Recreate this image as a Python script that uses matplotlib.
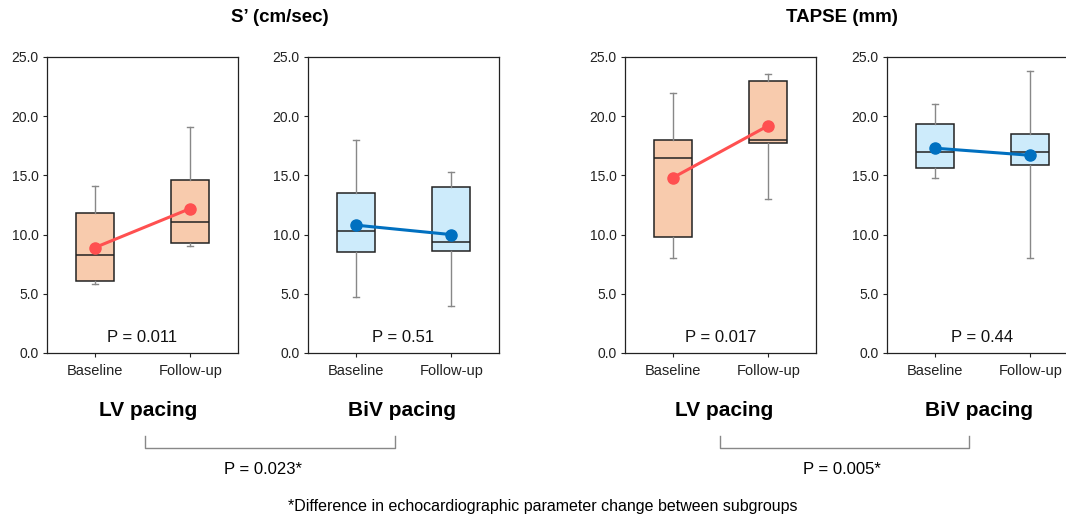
import numpy as np
import matplotlib
matplotlib.use('Agg')
import matplotlib.pyplot as plt
from matplotlib.lines import Line2D

plt.rcParams['font.family'] = ['Liberation Sans', 'DejaVu Sans']

groups = ['Baseline', 'Follow-up']

# box stats: whislo, q1, med, q3, whishi ; mean
s_lv_box = [[5.8, 6.1, 8.3, 11.8, 14.1], [9.0, 9.3, 11.1, 14.6, 19.1]]
s_lv_mean = [8.9, 12.2]
s_biv_box = [[4.7, 8.5, 10.3, 13.5, 18.0], [4.0, 8.6, 9.4, 14.0, 15.3]]
s_biv_mean = [10.8, 10.0]
t_lv_box = [[8.0, 9.8, 16.5, 18.0, 22.0], [13.0, 17.7, 18.0, 23.0, 23.6]]
t_lv_mean = [14.8, 19.2]
t_biv_box = [[14.8, 15.6, 17.0, 19.3, 21.0], [8.0, 15.9, 17.0, 18.5, 23.8]]
t_biv_mean = [17.3, 16.7]

p_within = ['P = 0.011', 'P = 0.51', 'P = 0.017', 'P = 0.44']
p_between = ['P = 0.023*', 'P = 0.005*']
titles = ["S\u2019 (cm/sec)", 'TAPSE (mm)']

W, H = 1066, 517
fig = plt.figure(figsize=(W / 100, H / 100), dpi=100)

panels = [
    (47, s_lv_box, s_lv_mean, '#F8CBAD', '#FF5050'),
    (308, s_biv_box, s_biv_mean, '#CDEBFB', '#0070C0'),
    (625, t_lv_box, t_lv_mean, '#F8CBAD', '#FF5050'),
    (887, t_biv_box, t_biv_mean, '#CDEBFB', '#0070C0'),
]

for k, (px, box, mean, fill, lc) in enumerate(panels):
    ax = fig.add_axes([px / W, (H - 353) / H, 191 / W, 296 / H])
    stats = []
    for b in box:
        stats.append(dict(whislo=b[0], q1=b[1], med=b[2], q3=b[3], whishi=b[4], fliers=[]))
    ax.bxp(stats, positions=[0, 1], widths=0.4, patch_artist=True, showfliers=False,
           boxprops=dict(facecolor=fill, edgecolor='#222222', linewidth=1.1),
           medianprops=dict(color='#222222', linewidth=1.1),
           whiskerprops=dict(color='#888888', linewidth=1.0),
           capprops=dict(color='#888888', linewidth=1.0), capwidths=0.06)
    ax.plot([0, 1], mean, color=lc, lw=2.2, marker='o', ms=8, zorder=5)
    ax.set_xlim(-0.5, 1.5)
    ax.set_ylim(0, 25)
    ax.set_yticks(np.arange(0, 25.1, 5))
    ax.set_yticklabels(['%.1f' % v for v in np.arange(0, 25.1, 5)])
    ax.set_xticks([0, 1])
    ax.set_xticklabels(groups)
    ax.tick_params(axis='y', labelsize=10, length=3, width=0.8, colors='#222222', pad=3)
    ax.tick_params(axis='x', labelsize=10.5, length=3, width=0.8, colors='#222222', pad=5)
    for sp in ax.spines.values():
        sp.set_color('#222222')
        sp.set_linewidth(0.9)
    ax.text(0.5, 16 / 296, p_within[k], transform=ax.transAxes,
            ha='center', va='center', fontsize=12, color='#111111')

# titles
fig.text(280 / W, 1 - 18 / H, titles[0], ha='center', va='center', fontsize=13.5, fontweight='bold')
fig.text(842 / W, 1 - 18 / H, titles[1], ha='center', va='center', fontsize=13.5, fontweight='bold')

# group labels
for x, s in [(148, 'LV pacing'), (402, 'BiV pacing'), (724, 'LV pacing'), (979, 'BiV pacing')]:
    fig.text(x / W, 1 - 411 / H, s, ha='center', va='center', fontsize=15, fontweight='bold')

# brackets
for (x0, x1), ptxt, xc in [((145, 395), p_between[0], 263), ((720, 969), p_between[1], 842)]:
    xs = np.array([x0, x0, x1, x1]) / W
    ys = 1 - np.array([436, 448, 448, 436]) / H
    fig.add_artist(Line2D(xs, ys, color='#888888', lw=1.0))
    fig.text(xc / W, 1 - 469 / H, ptxt, ha='center', va='center', fontsize=12)

fig.text(543 / W, 1 - 507 / H, '*Difference in echocardiographic parameter change between subgroups',
         ha='center', va='center', fontsize=11.5)

fig.savefig('out.png', dpi=100)
